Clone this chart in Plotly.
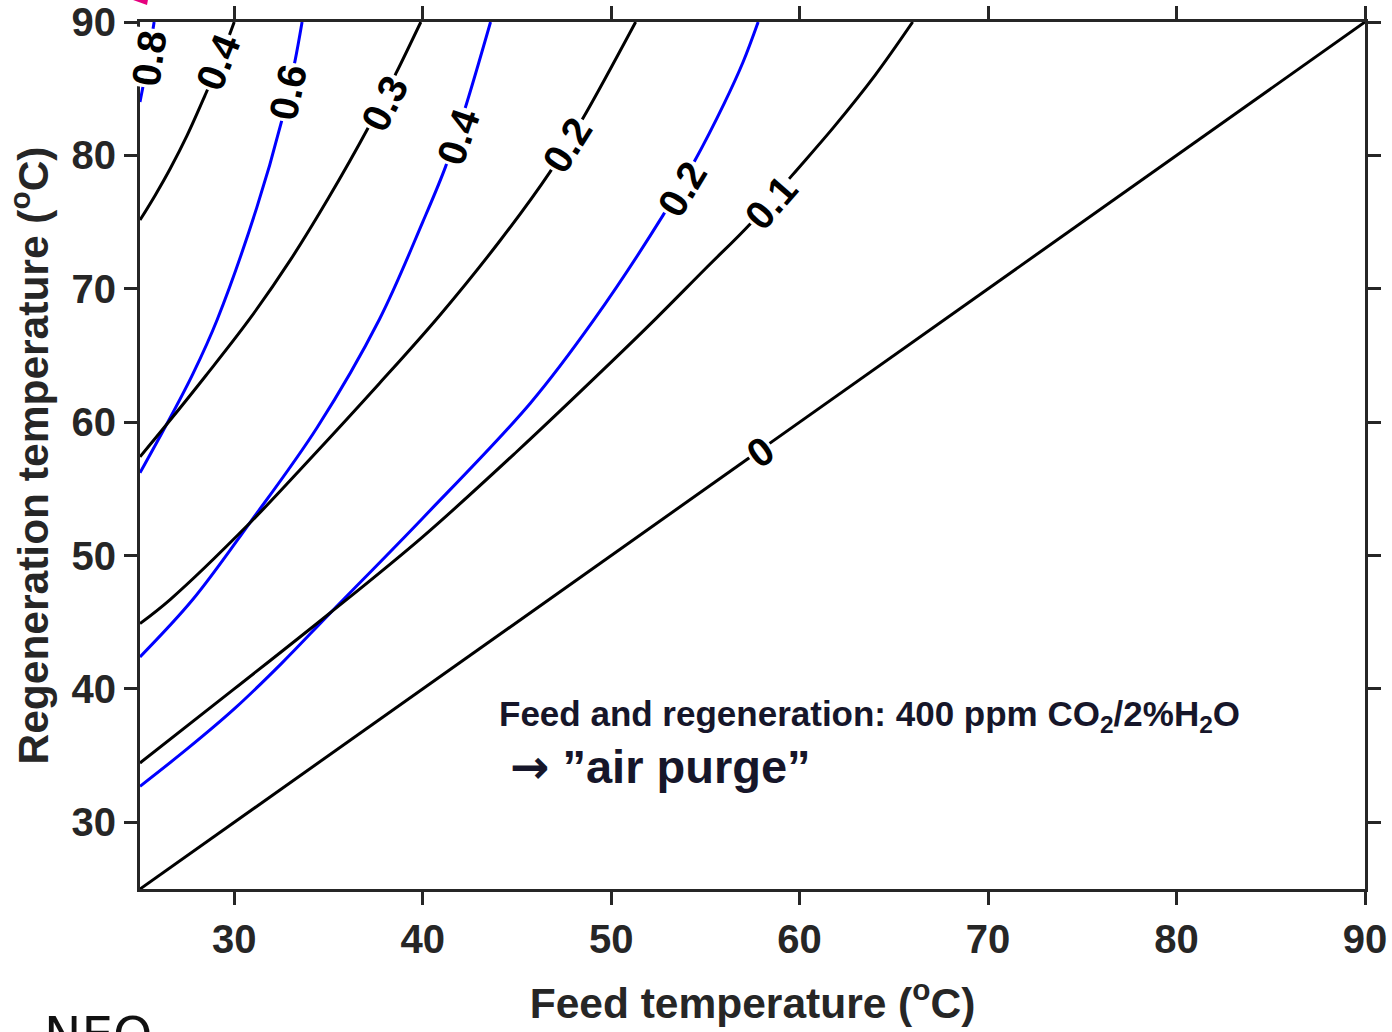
import plotly.graph_objects as go

# ---- data (feed temperature x, regeneration temperature y) ----
black_0_x = [25, 90]
black_0_y = [25, 90]

black_01_x = [25, 30, 35, 40, 45, 50, 52.4, 55, 57.4, 59.6, 61.8, 64, 66]
black_01_y = [34.45, 40.0, 45.6, 51.4, 57.8, 64.5, 67.8, 71.5, 74.9, 78.5, 82.1, 86.0, 90]

black_02_x = [25, 26.6, 30.8, 34, 37.7, 40.9, 44.1, 46.75, 48.45, 51.3]
black_02_y = [44.9, 46.7, 52.4, 57.2, 62.9, 68.0, 73.6, 78.75, 82.65, 90]

black_03_x = [25, 26.4, 28.5, 30.8, 33, 35, 37.1, 38.6, 39.9]
black_03_y = [57.4, 59.8, 63.5, 67.7, 72.2, 76.8, 82.05, 86.2, 90]

black_04_x = [25, 25.8, 26.6, 27.5, 28.45, 29.2, 30]
black_04_y = [75.15, 77.0, 79.0, 81.5, 84.5, 87.0, 90]

blue_02_x = [25, 27.5, 30, 32.5, 35.1, 40, 45.7, 49.1, 52.75, 54.4, 56.0, 57.0, 57.8]
blue_02_y = [32.7, 35.5, 38.5, 41.9, 45.7, 52.8, 61.4, 67.7, 75.5, 79.5, 83.9, 87.0, 90]

blue_04_x = [25, 27.8, 30.8, 34.4, 37.7, 40.0, 41.2, 42.2, 43.6]
blue_04_y = [42.4, 46.7, 52.4, 59.6, 67.7, 75.0, 79.1, 83.3, 90]

blue_06_x = [25, 26.4, 27.8, 29.1, 31.2, 32.5, 33.2, 33.6]
blue_06_y = [56.2, 59.8, 63.6, 67.7, 76.1, 82.5, 86.9, 90]

blue_08_x = [25, 25.4, 25.75]
blue_08_y = [84.0, 87.0, 90]

# contour labels: text, x, y, angle
label_text = ["0.8", "0.4", "0.6", "0.3", "0.4", "0.2", "0.2", "0.1", "0"]
label_x = [25.48, 29.14, 32.85, 38.0, 41.87, 47.66, 53.76, 58.5, 57.9]
label_y = [87.3, 87.0, 84.75, 83.9, 81.4, 80.8, 77.5, 76.5, 57.8]
label_angle = [-82, -68, -78, -63, -71, -58, -59, -49, -35]

x_ticks = [30, 40, 50, 60, 70, 80, 90]
y_ticks = [30, 40, 50, 60, 70, 80, 90]

FONT = "Liberation Sans, Arial, sans-serif"
AXC = "#262626"

fig = go.Figure()

black_lines = [(black_0_x, black_0_y), (black_01_x, black_01_y), (black_02_x, black_02_y),
               (black_03_x, black_03_y), (black_04_x, black_04_y)]
blue_lines = [(blue_02_x, blue_02_y), (blue_04_x, blue_04_y), (blue_06_x, blue_06_y),
              (blue_08_x, blue_08_y)]

for xs, ys in blue_lines:
    fig.add_trace(go.Scatter(x=xs, y=ys, mode="lines",
                             line=dict(color="#0000ff", width=3, shape="spline", smoothing=1.0),
                             showlegend=False, hoverinfo="skip", cliponaxis=True))
for xs, ys in black_lines:
    fig.add_trace(go.Scatter(x=xs, y=ys, mode="lines",
                             line=dict(color="#000000", width=3, shape="spline", smoothing=1.0),
                             showlegend=False, hoverinfo="skip", cliponaxis=True))

for t, x, y, a in zip(label_text, label_x, label_y, label_angle):
    fig.add_annotation(x=x, y=y, xref="x", yref="y", text="<b>" + t + "</b>",
                       textangle=a, showarrow=False, bgcolor="white", borderpad=1,
                       font=dict(family=FONT, size=40, color="#000000"))

fig.add_annotation(x=43.94, y=38.0, xref="x", yref="y", xanchor="left", yanchor="middle",
                   text="<b>Feed and regeneration: 400 ppm CO<sub>2</sub>/2%H<sub>2</sub>O</b>",
                   showarrow=False, font=dict(family=FONT, size=35, color="#16162a"))
fig.add_annotation(x=44.5, y=34.15, xref="x", yref="y", xanchor="left", yanchor="middle",
                   text="<b><span style=\"font-family:DejaVu Sans\">\u2192</span> \u201dair purge\u201d</b>",
                   showarrow=False, font=dict(family=FONT, size=47, color="#16162a"))

fig.add_annotation(x=-0.08, y=-0.143, xref="paper", yref="paper", xanchor="left", yanchor="top",
                   text="NEO", showarrow=False, yshift=9,
                   font=dict(family="DejaVu Sans, sans-serif", size=50, color="#111111"))

fig.add_shape(type="path", xref="paper", yref="paper",
              path="M -0.0057 1.0254 L 0.0065 1.0254 L 0.0057 1.0196 Z",
              fillcolor="#e6007e", line=dict(width=0))

axis_common = dict(showline=True, linewidth=3, linecolor=AXC, mirror="ticks",
                   ticks="outside", ticklen=13, tickwidth=3, tickcolor=AXC,
                   showgrid=False, zeroline=False, automargin=False,
                   tickfont=dict(family=FONT, size=40, color=AXC))

fig.update_layout(
    width=1392, height=1032,
    margin=dict(l=140, r=27, t=22, b=143, autoexpand=False),
    paper_bgcolor="white", plot_bgcolor="white",
    xaxis=dict(range=[25, 90], tickvals=x_ticks, ticktext=["<b>%d</b>" % v for v in x_ticks],
               title=dict(text="<b>Feed temperature (<sup>o</sup>C)</b>",
                          font=dict(family=FONT, size=42.5, color=AXC), standoff=29),
               **axis_common),
    yaxis=dict(range=[25, 90], tickvals=y_ticks, ticktext=["<b>%d</b>" % v for v in y_ticks],
               title=dict(text="<b>Regeneration temperature (<sup>o</sup>C)</b>",
                          font=dict(family=FONT, size=42.5, color=AXC), standoff=10),
               **axis_common),
)

fig.write_html("out.html")
